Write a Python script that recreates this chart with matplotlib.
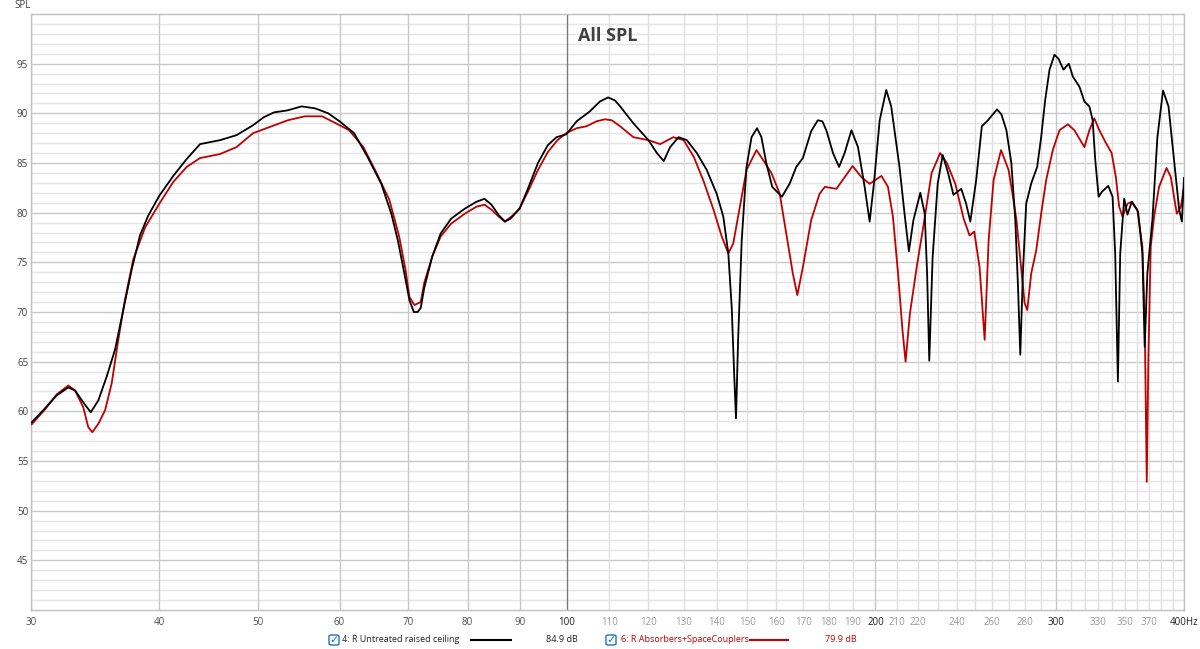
import matplotlib
matplotlib.use("Agg")
import matplotlib.pyplot as plt
from matplotlib.patches import FancyBboxPatch
from matplotlib.lines import Line2D

# ---------------- data ----------------
freq_black = [30.05, 30.96, 31.78, 32.62, 33.12, 33.74, 34.31, 34.90, 35.56, 36.23, 36.91, 37.62, 38.32,
              39.04, 40.02, 41.30, 42.56, 43.86, 45.87, 47.6, 49.4, 50.6, 51.8, 53.4, 55.1, 56.8, 58.5,
              60.0, 62.0, 63.9, 65.9, 67.4, 68.4, 69.4, 70.2, 70.9, 71.5, 72.0, 72.6, 73.9, 75.3, 77.1,
              79.5, 81.6, 83.1, 84.4, 85.8, 87.0, 88.1, 89.9, 91.6, 93.7, 95.8, 97.7, 99.9, 102.2, 105.3,
              107.7, 109.7, 111.4, 112.7, 116.1, 120.1, 122.4, 124.3, 126.1, 128.5, 130.9, 133.9, 136.9,
              140.0, 142.1, 143.7, 144.8, 145.6, 146.2, 146.9, 148.1, 149.7, 151.4, 153.3, 154.8, 156.5,
              158.6, 162.1, 164.9, 167.4, 169.9, 173.1, 175.7, 177.5, 179.1, 181.8, 184.3, 186.6, 189.5,
              192.3, 195.2, 197.4, 199.3, 201.9, 204.9, 207.2, 211.1, 213.5, 215.6, 217.8, 221.2, 223.4,
              224.6, 225.7, 227.4, 230.0, 232.6, 235.3, 238.3, 242.5, 245.2, 247.5, 250.8, 254.0, 257.5,
              262.8, 265.4, 268.4, 271.4, 273.8, 275.5, 276.9, 278.6, 280.6, 283.8, 287.6, 290.2, 292.8,
              295.7, 299.0, 301.7, 305.1, 308.8, 311.6, 316.2, 319.8, 323.4, 325.8, 327.7, 330.2, 332.6,
              337.4, 340.7, 342.7, 344.8, 346.6, 349.7, 352.3, 355.7, 360.8, 364.3, 366.2, 368.4, 372.6,
              376.8, 381.6, 386.3, 391.2, 395.7, 398.1, 400.0]
spl_black = [58.9, 60.3, 61.6, 62.4, 62.1, 60.9, 59.9, 61.1, 63.5, 66.2, 70.2, 74.3, 77.7,
             79.7, 81.7, 83.7, 85.4, 86.9, 87.3, 87.8, 88.8, 89.6, 90.1, 90.3, 90.7, 90.5, 90.0,
             89.2, 88.0, 85.6, 82.9, 79.9, 77.2, 73.9, 71.2, 70.0, 70.0, 70.4, 72.5, 75.6, 77.9, 79.4,
             80.4, 81.1, 81.4, 80.8, 79.75, 79.1, 79.4, 80.4, 82.4, 85.0, 86.8, 87.6, 87.9, 89.2, 90.2,
             91.2, 91.6, 91.3, 90.7, 89.0, 87.3, 86.0, 85.2, 86.6, 87.6, 87.3, 86.0, 84.3,
             81.9, 79.6, 75.9, 70.5, 63.8, 59.3, 67.2, 77.25, 84.6, 87.6, 88.5, 87.6, 85.0,
             82.6, 81.6, 82.9, 84.6, 85.5, 88.2, 89.3, 89.2, 88.3, 86.0, 84.6, 86.0, 88.3,
             86.6, 82.6, 79.1, 82.9, 89.3, 92.35, 90.7, 84.6, 79.9, 76.1, 79.25, 82.0, 79.9,
             73.9, 65.1, 75.5, 82.9, 85.8, 84.1, 81.8, 82.4, 80.9, 79.1, 83.3, 88.7, 89.3,
             90.4, 89.9, 88.3, 85.0, 79.3, 72.5, 65.7, 74.2, 80.9, 82.95, 84.6, 87.6, 91.3,
             94.4, 95.9, 95.5, 94.4, 95.0, 93.7, 92.7, 91.2, 90.7, 89.3, 85.3, 81.6, 82.1,
             82.7, 81.6, 75.9, 63.0, 75.9, 81.4, 79.8, 81.1, 80.1, 75.9, 66.5, 73.9, 79.3,
             87.6, 92.3, 90.7, 85.3, 80.3, 79.1, 83.5]

freq_red = [30.05, 30.96, 31.78, 32.62, 33.12, 33.74, 34.12, 34.43, 34.90, 35.43, 35.96, 36.50, 37.05,
            37.75, 38.76, 40.02, 41.30, 42.56, 43.86, 45.87, 47.6, 49.4, 51.2, 53.4, 55.5, 57.7, 59.5,
            61.3, 63.3, 65.2, 67.1, 68.6, 69.6, 70.2, 71.0, 72.0, 72.6, 73.9, 75.3, 77.1, 79.5, 81.6,
            83.1, 84.4, 85.8, 87.0, 88.5, 89.9, 91.6, 93.7, 95.8, 97.9, 100.0, 102.2, 104.5, 106.9,
            108.9, 110.6, 112.7, 116.1, 120.1, 123.3, 127.0, 130.0, 133.0, 135.9, 139.0, 141.6, 143.7,
            145.3, 147.5, 149.7, 153.1, 155.4, 158.3, 161.3, 163.7, 166.1, 167.8, 169.9, 173.1, 176.4,
            178.5, 183.2, 190.0, 193.7, 197.4, 202.7, 205.7, 208.0, 210.4, 212.5, 214.0, 216.1, 219.4,
            222.7, 226.9, 231.3, 234.8, 239.3, 243.8, 247.1, 249.7, 252.7, 255.6, 257.9, 260.8, 265.2,
            269.7, 272.0, 274.5, 277.6, 279.6, 281.3, 283.8, 287.0, 290.2, 293.5, 297.9, 302.4, 308.1,
            312.7, 319.8, 323.4, 327.0, 330.7, 335.7, 340.0, 343.2, 345.8, 348.4, 352.3, 355.7, 360.2,
            364.3, 366.2, 367.9, 369.3, 371.2, 374.0, 378.2, 384.6, 388.3, 393.6, 397.2, 400.0]
spl_red = [58.7, 60.2, 61.7, 62.6, 62.1, 60.4, 58.4, 57.9, 58.75, 60.1, 62.8, 67.2, 71.25,
           75.3, 78.5, 80.9, 83.1, 84.6, 85.5, 85.9, 86.6, 88.0, 88.6, 89.3, 89.7, 89.7, 89.0,
           88.3, 86.6, 84.0, 81.3, 77.6, 74.2, 71.5, 70.7, 71.0, 73.0, 75.6, 77.6, 78.9, 79.9, 80.6,
           80.8, 80.3, 79.6, 79.1, 79.7, 80.4, 82.1, 84.3, 86.1, 87.3, 88.05, 88.5, 88.7, 89.2,
           89.4, 89.3, 88.7, 87.6, 87.3, 86.9, 87.6, 87.3, 85.6, 83.2, 80.3, 77.6, 75.9,
           76.9, 80.6, 84.3, 86.3, 85.3, 84.0, 81.9, 77.9, 73.9, 71.7, 74.5, 79.25, 81.9,
           82.6, 82.4, 84.7, 83.6, 82.9, 83.7, 82.6, 79.6, 73.9, 68.2, 65.0, 69.85, 74.5,
           78.6, 84.0, 86.0, 85.0, 82.9, 79.4, 77.7, 78.1, 74.5, 67.2, 77.25, 83.3, 86.3,
           84.3, 82.0, 79.3, 74.2, 70.9, 70.2, 73.9, 76.2, 79.9, 83.3, 86.3, 88.3, 88.9,
           88.3, 86.6, 88.3, 89.5, 88.3, 87.0, 86.0, 83.6, 80.6, 79.6, 80.9, 81.1, 80.3,
           76.6, 69.2, 52.9, 65.8, 76.6, 79.6, 82.6, 84.5, 83.6, 79.9, 80.6, 82.6]

grid_freqs = list(range(30, 401, 10))
tick_labels = {30: "30", 40: "40", 50: "50", 60: "60", 70: "70", 80: "80", 90: "90", 100: "100",
               110: "110", 120: "120", 130: "130", 140: "140", 150: "150", 160: "160", 170: "170",
               180: "180", 190: "190", 200: "200", 210: "210", 220: "220", 240: "240", 260: "260",
               280: "280", 300: "300", 330: "330", 350: "350", 370: "370", 400: "400Hz"}
y_ticks = [45, 50, 55, 60, 65, 70, 75, 80, 85, 90, 95]

name_black = "4: R Untreated raised ceiling"
name_red = "6: R Absorbers+SpaceCouplers"
level_black = "84.9 dB"
level_red = "79.9 dB"

RED = "#c00000"
FONT = ["Open Sans", "DejaVu Sans"]
plt.rcParams['font.family'] = FONT

# ---------------- figure ----------------
W, H = 1200, 649
fig = plt.figure(figsize=(W / 100, H / 100), dpi=100)
L, R, T, B = 31, 1184, 14, 610
ax = fig.add_axes([L / W, 1 - B / H, (R - L) / W, (B - T) / H])
ax.set_xscale('log')
ax.set_xlim(30, 400)
ax.set_ylim(40, 100)

# horizontal grid
for v in range(41, 100):
    c = "#c8c8c8" if v % 5 == 0 else "#e4e4e4"
    ax.axhline(v, color=c, lw=1.0, zorder=0)
# vertical grid
for f in grid_freqs:
    if f == 100:
        c = "#7a7a7a"
    elif f < 100 or f in (200, 300):
        c = "#c8c8c8"
    else:
        c = "#e0e0e0"
    ax.axvline(f, color=c, lw=1.0, zorder=0)

ax.plot(freq_red, spl_red, color=RED, lw=1.3, zorder=3, solid_joinstyle='round')
ax.plot(freq_black, spl_black, color="#000000", lw=1.3, zorder=4, solid_joinstyle='round')

ax.xaxis.set_minor_locator(matplotlib.ticker.NullLocator())
ax.set_xticks(list(tick_labels.keys()))
ax.set_xticklabels(list(tick_labels.values()))
ax.set_yticks(y_ticks)
ax.set_yticklabels([str(v) for v in y_ticks])
ax.tick_params(axis='both', length=0, labelsize=7, colors="#404040")
ax.tick_params(axis='x', pad=5)
ax.tick_params(axis='y', pad=2)
for lab in ax.get_xticklabels():
    t = lab.get_text()
    if t in ("30", "40", "50", "60", "70", "80", "90"):
        lab.set_color("#505050")
    elif t in ("100", "200", "300", "400Hz"):
        lab.set_color("#202020")
    else:
        lab.set_color("#9a9a9a")

for s in ax.spines.values():
    s.set_color("#c0c0c0")
    s.set_linewidth(1.0)

ax.text(0.5, 0.978, "All SPL", transform=ax.transAxes, ha='center', va='top',
        fontsize=13, fontweight='bold', color="#404040")
fig.text(14 / W, 1 - 5 / H, "SPL", ha='left', va='center', fontsize=7, color="#404040")

# ---------------- legend ----------------
def checkbox(xpix, ypix):
    s = 10
    box = FancyBboxPatch(((xpix - s / 2) / W, 1 - (ypix + s / 2) / H), s / W, s / H,
                         boxstyle="round,pad=0,rounding_size=0.002", transform=fig.transFigure,
                         facecolor="white", edgecolor="#1a73c8", lw=1.0)
    fig.patches.append(box)
    fig.text(xpix / W, 1 - ypix / H, "\u2713", ha='center', va='center', fontsize=8,
             color="#1a73c8", family="DejaVu Sans", fontweight='bold')

ly = 640
LFS = 6.5
checkbox(334, ly)
fig.text(342 / W, 1 - ly / H, name_black, ha='left', va='center', fontsize=LFS, color="#202020")
fig.lines.append(Line2D([471 / W, 511 / W], [1 - ly / H, 1 - ly / H], transform=fig.transFigure,
                        color="black", lw=1.5))
fig.text(546 / W, 1 - ly / H, level_black, ha='left', va='center', fontsize=LFS, color="#202020")

checkbox(611, ly)
fig.text(621 / W, 1 - ly / H, name_red, ha='left', va='center', fontsize=LFS, color=RED)
fig.lines.append(Line2D([750 / W, 788 / W], [1 - ly / H, 1 - ly / H], transform=fig.transFigure,
                        color=RED, lw=1.5))
fig.text(825 / W, 1 - ly / H, level_red, ha='left', va='center', fontsize=LFS, color=RED)

fig.savefig("out.png", dpi=100, facecolor="white")
